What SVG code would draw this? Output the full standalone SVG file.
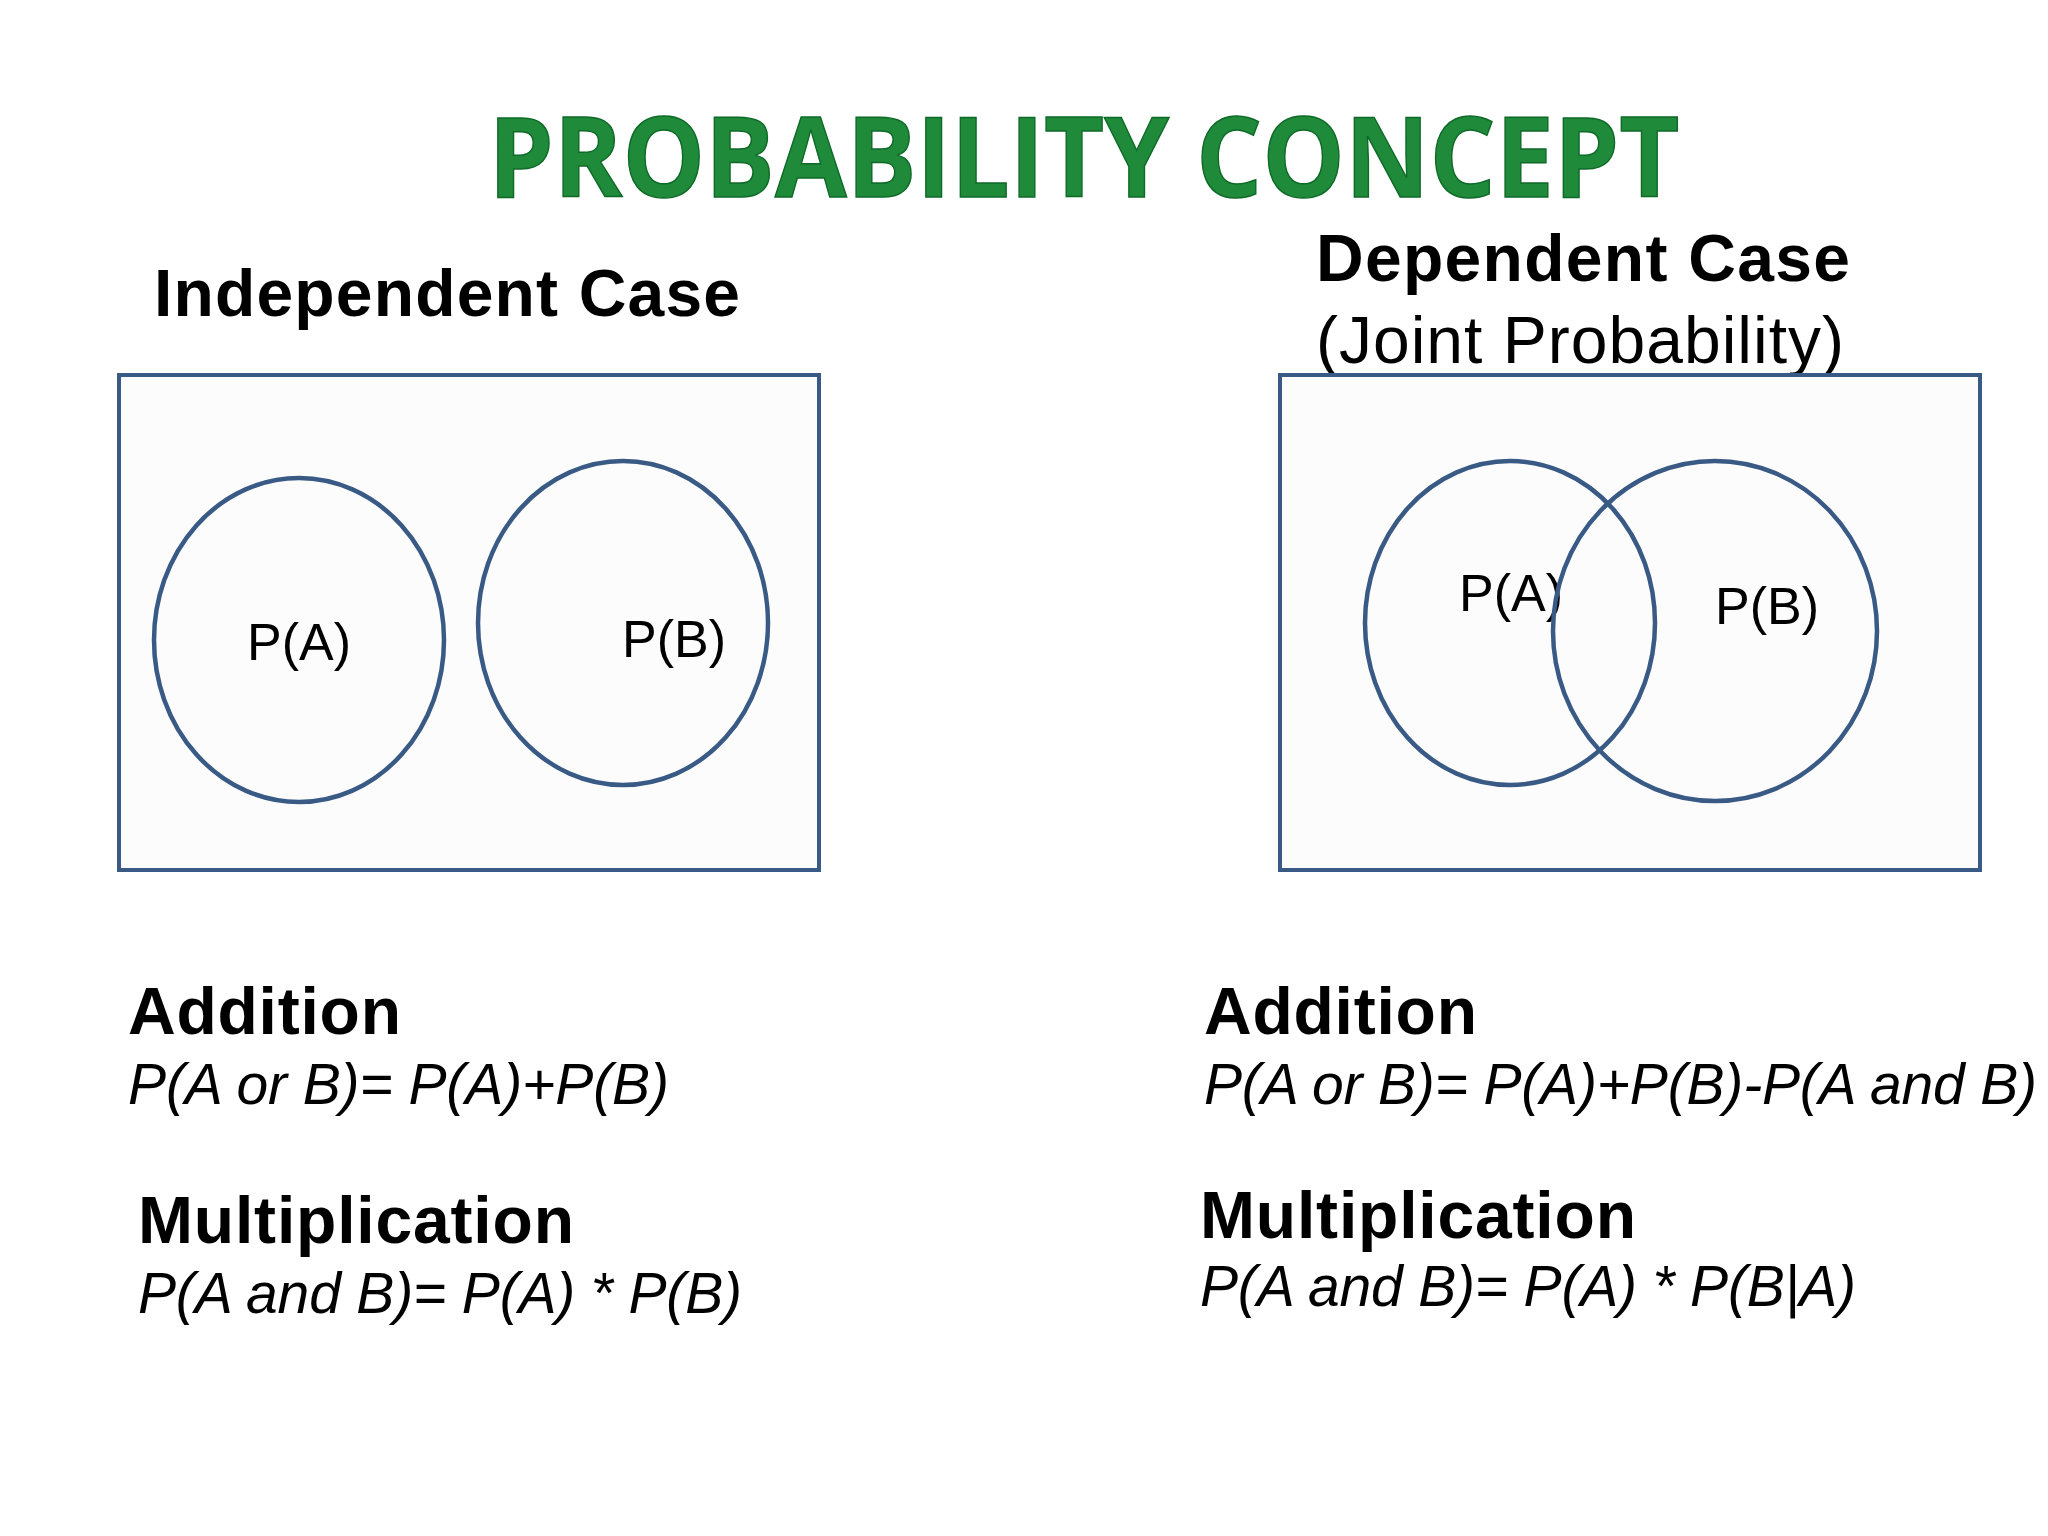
<svg xmlns="http://www.w3.org/2000/svg" width="2048" height="1536" viewBox="0 0 2048 1536">
<style>
.box{fill:#fcfcfc;stroke:#3a5a86;stroke-width:4}
.c{fill:none;stroke:#3a5a86;stroke-width:4.5}
.h{font-family:"Liberation Sans",Arial,sans-serif;font-weight:bold;font-size:66px;fill:#000}
.n{font-family:"Liberation Sans",Arial,sans-serif;font-size:66px;fill:#000}
.l{font-family:"Liberation Sans",Arial,sans-serif;font-size:52px;fill:#000}
.f{font-family:"Liberation Sans",Arial,sans-serif;font-style:italic;font-size:57px;fill:#000}
</style>
<rect width="2048" height="1536" fill="#fff"/>
<text x="1084" y="197" text-anchor="middle" font-family="'Open Sans','Liberation Sans',sans-serif" font-weight="bold" font-size="112" fill="#1e8a3a" stroke="#0f6a28" stroke-width="1.5" textLength="1191" lengthAdjust="spacingAndGlyphs">PROBABILITY CONCEPT</text>
<g id="independent">
<text class="h" x="154" y="316" textLength="586">Independent Case</text>
<rect class="box" x="119" y="375" width="700" height="495"/>
<g id="ia"><ellipse class="c" cx="299" cy="640" rx="145" ry="162"/><text class="l" x="299" y="660" text-anchor="middle">P(A)</text></g>
<g id="ib"><ellipse class="c" cx="623" cy="623" rx="145" ry="162"/><text class="l" x="674" y="657" text-anchor="middle">P(B)</text></g>
</g>
<g id="dependent">
<text class="h" x="1316" y="281" textLength="534">Dependent Case</text>
<text class="n" x="1316" y="363" textLength="528">(Joint Probability)</text>
<rect class="box" x="1280" y="375" width="700" height="495"/>
<g id="da"><ellipse class="c" cx="1510" cy="623" rx="145" ry="162"/><text class="l" x="1459" y="611">P(A)</text></g>
<g id="db"><ellipse class="c" cx="1715" cy="631" rx="162" ry="170"/><text class="l" x="1715" y="624">P(B)</text></g>
</g>
<g id="formulas">
<text class="h" x="128" y="1034" textLength="273">Addition</text>
<text class="f" x="128" y="1104" textLength="541">P(A or B)= P(A)+P(B)</text>
<text class="h" x="138" y="1243" textLength="436">Multiplication</text>
<text class="f" x="138" y="1313" textLength="604">P(A and B)= P(A) * P(B)</text>
<text class="h" x="1204" y="1034" textLength="273">Addition</text>
<text class="f" x="1204" y="1104" textLength="833">P(A or B)= P(A)+P(B)-P(A and B)</text>
<text class="h" x="1200" y="1238" textLength="436">Multiplication</text>
<text class="f" x="1200" y="1306" textLength="656">P(A and B)= P(A) * P(B|A)</text>
</g>
</svg>
